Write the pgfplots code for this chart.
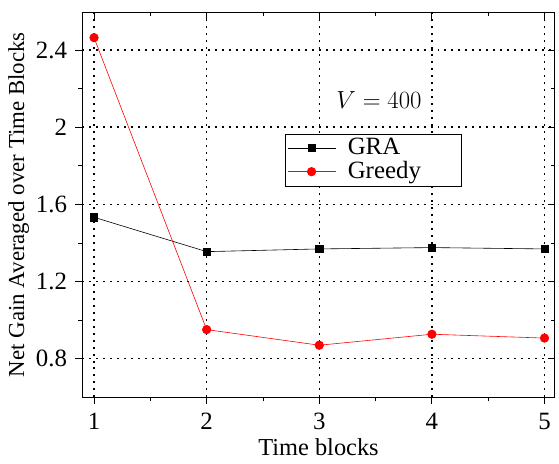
\documentclass[border=0pt]{standalone}
\usepackage{fontspec}
\setmainfont{Liberation Serif}
\usepackage{pgfplots}
\pgfplotsset{compat=1.18}

\begin{document}
\fontsize{25}{29}\selectfont
\begin{tikzpicture}
  % bottom/left: outward ticks with labels
  \begin{axis}[
      name=main,
      scale only axis,
      width=473bp, height=386bp,
      xmin=0.897, xmax=5.09,
      ymin=0.6, ymax=2.597,
      xtick={1,2,3,4,5},
      ytick={0.8,1.2,1.6,2.0,2.4},
      minor xtick={1.5,2.5,3.5,4.5},
      minor ytick={1.0,1.4,1.8,2.2},
      yticklabels={0.8,1.2,1.6,2,2.4},
      xtick pos=left, ytick pos=left,
      tick align=outside,
      major tick length=7bp,
      minor tick length=4bp,
      tick style={black, line width=0.8pt},
      axis line style={black, line width=0.9pt},
      /pgf/number format/assume math mode=true,
      ticklabel style={font=\fontsize{25}{29}\selectfont},
      xmajorgrids, ymajorgrids,
      major grid style={black, line width=1.4pt, dash pattern=on 2pt off 5pt},
      xlabel={Time blocks},
      ylabel={Net Gain Averaged over Time Blocks},
      xlabel style={yshift=8bp, font=\fontsize{24.5}{28}\selectfont},
      ylabel style={yshift=-10bp, font=\fontsize{23}{27}\selectfont},
      legend style={at={(0.429,0.684)}, anchor=north west, draw=black,
        line width=0.6pt, font=\fontsize{25}{29}\selectfont,
        inner xsep=2pt, inner ysep=2pt, row sep=-1pt,
        nodes={text width=100bp, align=left, inner xsep=12bp}},
      legend cell align=left,
      legend image code/.code={%
        \draw[mark repeat=2,mark phase=2] plot coordinates {(0bp,0bp)(24bp,0bp)(48bp,0bp)};},
    ]
    \addplot[black, line width=0.6pt, mark=square*, mark size=3.6bp,
      mark options={solid, fill=black}]
    coordinates {
      (1, 1.533)
      (2, 1.355)
      (3, 1.369)
      (4, 1.376)
      (5, 1.369)
    };
    \addlegendentry{GRA}

    \addplot[red, line width=0.6pt, mark=*, mark size=4.3bp,
      mark options={solid, fill=red}]
    coordinates {
      (1, 2.464)
      (2, 0.951)
      (3, 0.870)
      (4, 0.927)
      (5, 0.907)
    };
    \addlegendentry{Greedy}

    \node at (axis cs:3.53,2.14) {\fontsize{26}{30}\selectfont$V = 400$};
  \end{axis}

  % top/right: inward ticks, no labels
  \begin{scope}[overlay]
  \begin{axis}[
      scale only axis,
      width=473bp, height=386bp,
      xmin=0.897, xmax=5.09,
      ymin=0.6, ymax=2.597,
      xtick={1,2,3,4,5},
      ytick={0.8,1.2,1.6,2.0,2.4},
      minor xtick={1.5,2.5,3.5,4.5},
      minor ytick={1.0,1.4,1.8,2.2},
      xtick pos=right, ytick pos=right,
      tick align=inside,
      major tick length=7bp,
      minor tick length=4bp,
      tick style={black, line width=0.8pt},
      axis line style={draw=none},
      xticklabels={}, yticklabels={},
    ]
  \end{axis}
  \end{scope}
  \path ([yshift=12bp]main.north) -- (main.north);
  \path (main.north east) -- ([xshift=2bp]main.north east);
\end{tikzpicture}
\end{document}
